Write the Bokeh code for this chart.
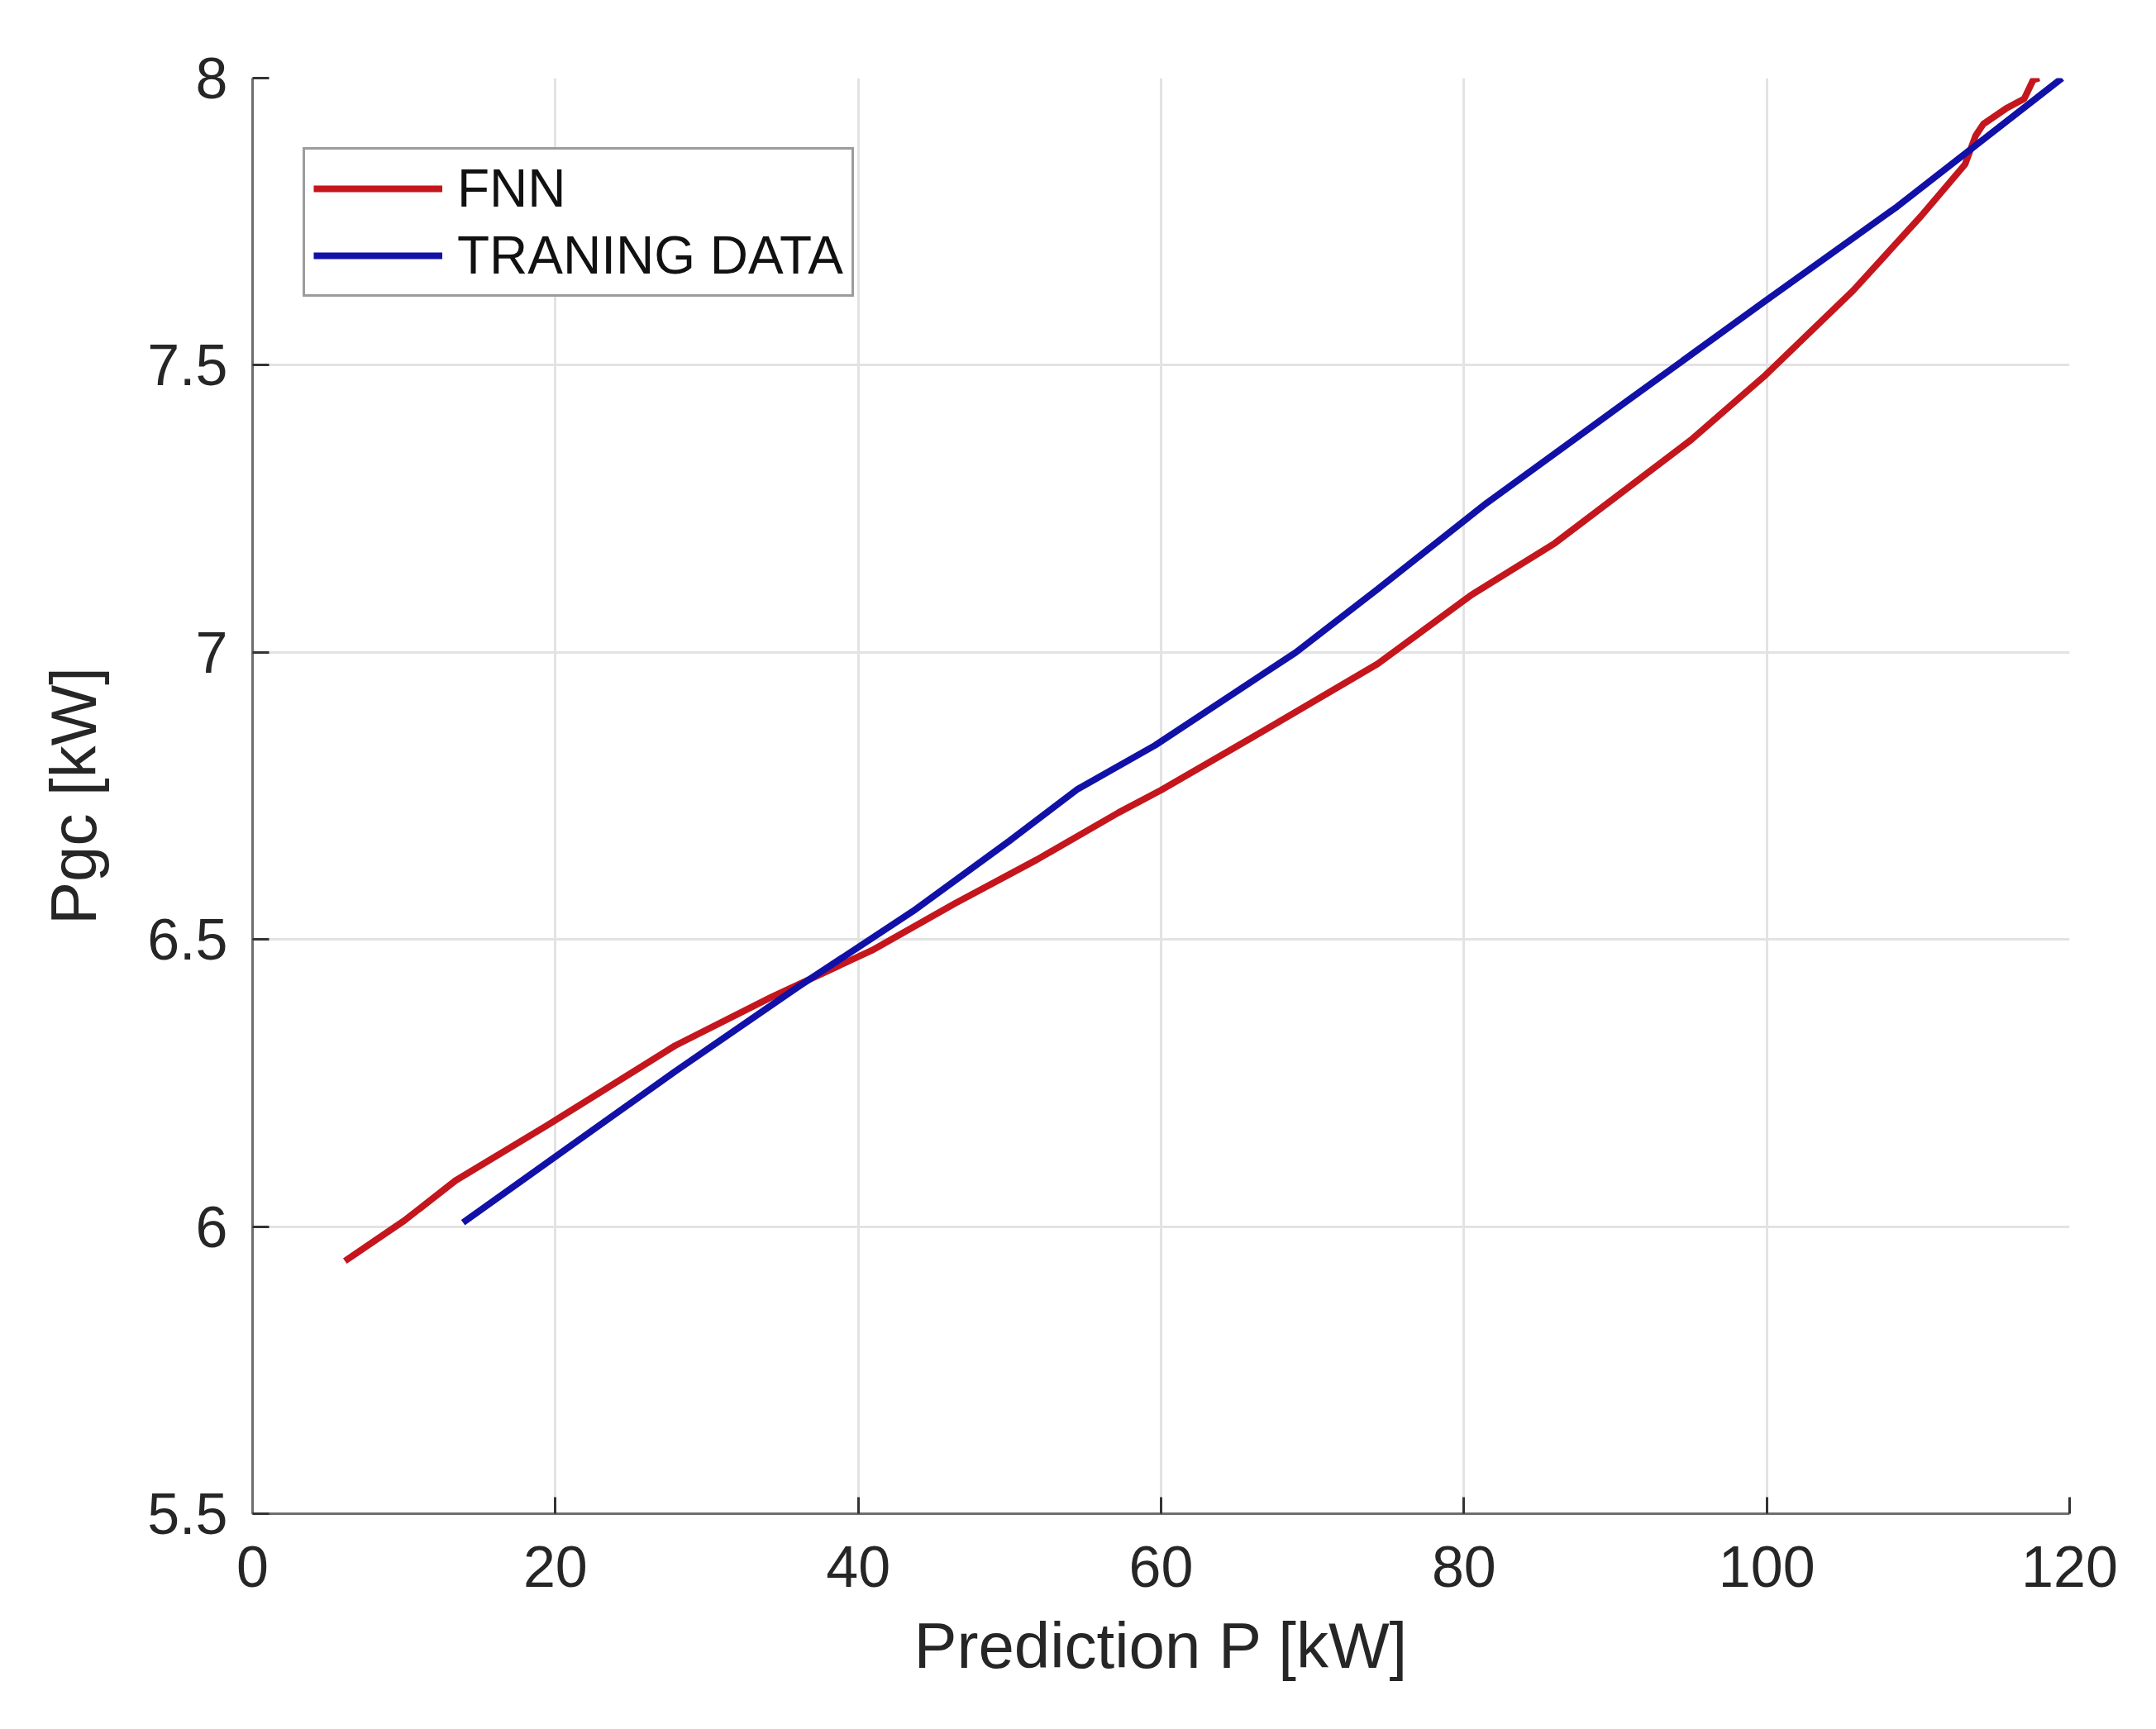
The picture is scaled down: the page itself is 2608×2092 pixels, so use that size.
from bokeh.plotting import figure
from bokeh.models import Range1d, FixedTicker, PrintfTickFormatter, Legend, LegendItem
from bokeh.embed import file_html
from bokeh.resources import INLINE

# ---- data ----
fnn_x = [6.1, 10.0, 13.4, 19.5, 27.9, 34.3, 40.9, 46.4, 51.8, 57.2, 60.0, 65.9, 74.3,
         80.5, 86.0, 90.0, 95.0, 99.8, 105.7, 110.2, 113.1, 113.8, 114.3, 115.8,
         117.0, 117.6, 118.0]
fnn_y = [5.94, 6.01, 6.08, 6.177, 6.315, 6.40, 6.481, 6.563, 6.639, 6.721, 6.76, 6.85, 6.98,
         7.10, 7.19, 7.27, 7.37, 7.48, 7.63, 7.76, 7.85, 7.90, 7.92, 7.947,
         7.964, 7.997, 8.0]

train_x = [13.9, 22.3, 27.9, 36.0, 43.6, 50.0, 54.5, 59.6, 68.9, 74.3, 81.5,
           90.9, 99.8, 108.6, 119.5]
train_y = [6.007, 6.165, 6.27, 6.417, 6.549, 6.672, 6.762, 6.838, 7.0, 7.11, 7.26,
           7.44, 7.61, 7.776, 8.0]

xticks = [0, 20, 40, 60, 80, 100, 120]
yticks = [5.5, 6.0, 6.5, 7.0, 7.5, 8.0]

series_names = ["FNN", "TRANING DATA"]
x_label = "Prediction P [kW]"
y_label = "Pgc [kW]"

FONT = "Liberation Sans"
TXT = "#262626"

p = figure(width=2592, height=2076, output_backend="svg", toolbar_location=None,
           x_range=Range1d(0, 120), y_range=Range1d(5.5, 8),
           min_border_left=305, min_border_right=89, min_border_top=94,
           min_border_bottom=245)
p.background_fill_color = "white"
p.border_fill_color = "white"
p.outline_line_color = None

for ax in (p.xaxis[0], p.yaxis[0]):
    ax.axis_line_color = "#6e6e6e"
    ax.axis_line_width = 3
    ax.major_tick_in = 20
    ax.major_tick_out = 0
    ax.major_tick_line_color = "#333333"
    ax.major_tick_line_width = 3
    ax.minor_tick_line_color = None
    ax.major_label_text_font = FONT
    ax.major_label_text_font_size = "70px"
    ax.major_label_text_color = TXT
    ax.axis_label_text_font = FONT
    ax.axis_label_text_font_size = "78px"
    ax.axis_label_text_font_style = "normal"
    ax.axis_label_text_color = TXT

p.xaxis[0].ticker = FixedTicker(ticks=xticks)
p.yaxis[0].ticker = FixedTicker(ticks=yticks)
p.yaxis[0].formatter = PrintfTickFormatter(format="%g")
p.xaxis[0].major_label_standoff = 39
p.yaxis[0].major_label_standoff = 30
p.xaxis[0].axis_label = x_label
p.yaxis[0].axis_label = y_label
p.xaxis[0].axis_label_standoff = 24
p.yaxis[0].axis_label_standoff = 42

for g in (p.xgrid[0], p.ygrid[0]):
    g.grid_line_color = "#e3e3e3"
    g.grid_line_width = 3

r1 = p.line(fnn_x, fnn_y, line_color="#C4161C", line_width=8)
r2 = p.line(train_x, train_y, line_color="#1111A8", line_width=8)

legend = Legend(items=[LegendItem(label=series_names[0], renderers=[r1]),
                       LegendItem(label=series_names[1], renderers=[r2])],
                location=(61, 1472))
legend.label_text_font = FONT
legend.label_text_font_size = "64px"
legend.label_text_color = "#111111"
legend.glyph_width = 156
legend.glyph_height = 60
legend.label_height = 60
legend.label_standoff = 18
legend.spacing = 7
legend.padding = 10
legend.margin = 0
legend.border_line_color = "#3a3a3a"
legend.border_line_width = 3
legend.background_fill_color = "white"
legend.background_fill_alpha = 1.0
p.add_layout(legend, "center")

open("out.html", "w").write(file_html(p, INLINE))
